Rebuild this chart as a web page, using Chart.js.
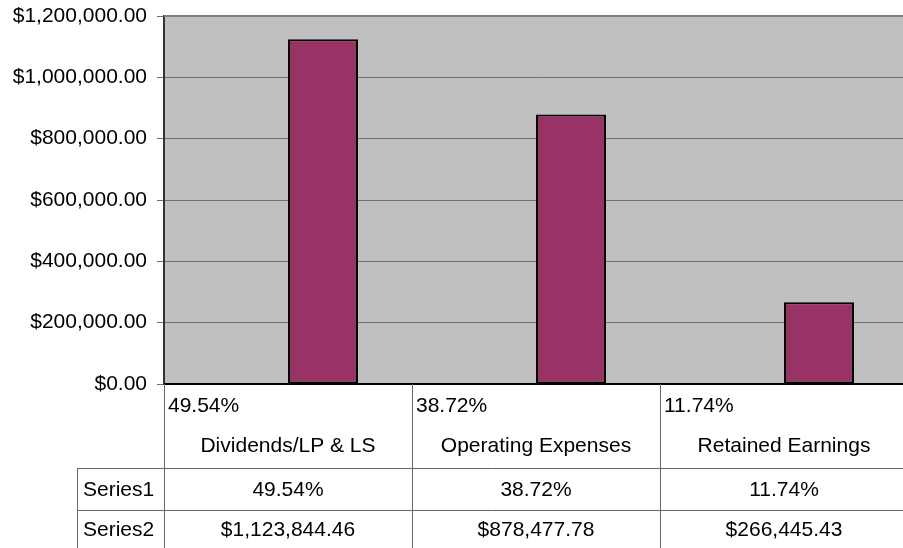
<!DOCTYPE html>
<html>
<head>
<meta charset="utf-8">
<script src="https://cdn.jsdelivr.net/npm/chart.js@4"></script>
<style>
  html, body { margin: 0; padding: 0; background: #fff; overflow: hidden; }
  #wrap { width: 920px; height: 548px; position: relative; }
</style>
</head>
<body>
<div id="wrap"><canvas id="chart"></canvas></div>
<script>
// data
const categories = ['Dividends/LP & LS', 'Operating Expenses', 'Retained Earnings'];
const series1 = [0.4954, 0.3872, 0.1174];
const series2 = [1123844.46, 878477.78, 266445.43];
const seriesNames = ['Series1', 'Series2'];
const yMax = 1200000;
const yStep = 200000;

const FONT = '"Liberation Sans", Arial, sans-serif';
const FSIZE = 21;
const money = v => '$' + v.toLocaleString('en-US', { minimumFractionDigits: 2, maximumFractionDigits: 2 });
const pct = v => (v * 100).toFixed(2) + '%';

// grey plot area + border, and the data table under the chart
const tablePlugin = {
    id: 'table',
    beforeDraw(chart) {
        const { ctx, chartArea: a } = chart;
        ctx.save();
        ctx.fillStyle = '#C0C0C0';
        ctx.fillRect(a.left, a.top, a.right - a.left, a.bottom - a.top);
        ctx.restore();
    },
    afterDatasetsDraw(chart) {
        const { ctx, chartArea: a, scales } = chart;
        const x = scales.x;
        const catW = (a.right - a.left) / categories.length;
        const rowTop = a.bottom;
        const row1 = 468, row2 = 510, rowEnd = chart.height;
        const headLeft = 77;

        ctx.save();
        // plot border (top)
        ctx.strokeStyle = '#808080';
        ctx.lineWidth = 2;
        ctx.beginPath();
        ctx.moveTo(a.left, a.top);
        ctx.lineTo(a.right, a.top);
        ctx.lineTo(a.right, a.bottom);
        ctx.stroke();
        // x axis line
        ctx.strokeStyle = '#000';
        ctx.lineWidth = 2;
        ctx.beginPath();
        ctx.moveTo(a.left, a.bottom);
        ctx.lineTo(a.right, a.bottom);
        ctx.stroke();

        // table lines
        ctx.strokeStyle = '#666';
        ctx.lineWidth = 1;
        ctx.beginPath();
        [row1, row2].forEach(y => {
            ctx.moveTo(headLeft, y + 0.5);
            ctx.lineTo(a.right, y + 0.5);
        });
        ctx.moveTo(headLeft + 0.5, row1);
        ctx.lineTo(headLeft + 0.5, rowEnd);
        for (let i = 0; i < categories.length; i++) {
            const xl = Math.round(x.getPixelForValue(i) - catW / 2) + 0.5;
            ctx.moveTo(xl, rowTop);
            ctx.lineTo(xl, rowEnd);
        }
        ctx.stroke();

        // texts
        ctx.fillStyle = '#000';
        ctx.font = FSIZE + 'px ' + FONT;
        ctx.textBaseline = 'middle';
        categories.forEach((c, i) => {
            const cx = x.getPixelForValue(i);
            ctx.textAlign = 'left';
            ctx.fillText(pct(series1[i]), cx - catW / 2 + 4, 406);
            ctx.textAlign = 'center';
            ctx.fillText(c, cx, 446);
            ctx.fillText(pct(series1[i]), cx, 490);
            ctx.fillText(money(series2[i]), cx, 530);
        });
        ctx.textAlign = 'left';
        ctx.fillText(seriesNames[0], 83, 490);
        ctx.fillText(seriesNames[1], 83, 530);
        ctx.restore();
    }
};

new Chart(document.getElementById('chart'), {
    type: 'bar',
    data: {
        labels: categories,
        datasets: [
            {
                label: seriesNames[0],
                data: series1,
                backgroundColor: '#9999FF',
                borderColor: '#000',
                borderWidth: 0
            },
            {
                label: seriesNames[1],
                data: series2,
                backgroundColor: '#993366',
                borderColor: '#000',
                borderWidth: 2,
                borderSkipped: false
            }
        ]
    },
    options: {
        responsive: true,
        maintainAspectRatio: false,
        animation: false,
        categoryPercentage: 0.5645,
        barPercentage: 1,
        layout: {
            padding: { left: 0, top: 16, right: 12, bottom: 164 }
        },
        plugins: {
            legend: { display: false },
            tooltip: { enabled: false }
        },
        scales: {
            x: {
                display: false
            },
            y: {
                min: 0,
                max: yMax,
                afterFit: s => {
                    s.width = 164;
                    s.paddingTop = 0;
                    s.paddingBottom = 0;
                },
                ticks: {
                    stepSize: yStep,
                    color: '#000',
                    padding: 10,
                    font: { family: FONT, size: FSIZE },
                    callback: v => money(v)
                },
                grid: {
                    color: '#6e6e6e',
                    lineWidth: 1,
                    tickLength: 7
                },
                border: { color: '#333', width: 2 }
            }
        }
    },
    plugins: [tablePlugin]
});
</script>
</body>
</html>
